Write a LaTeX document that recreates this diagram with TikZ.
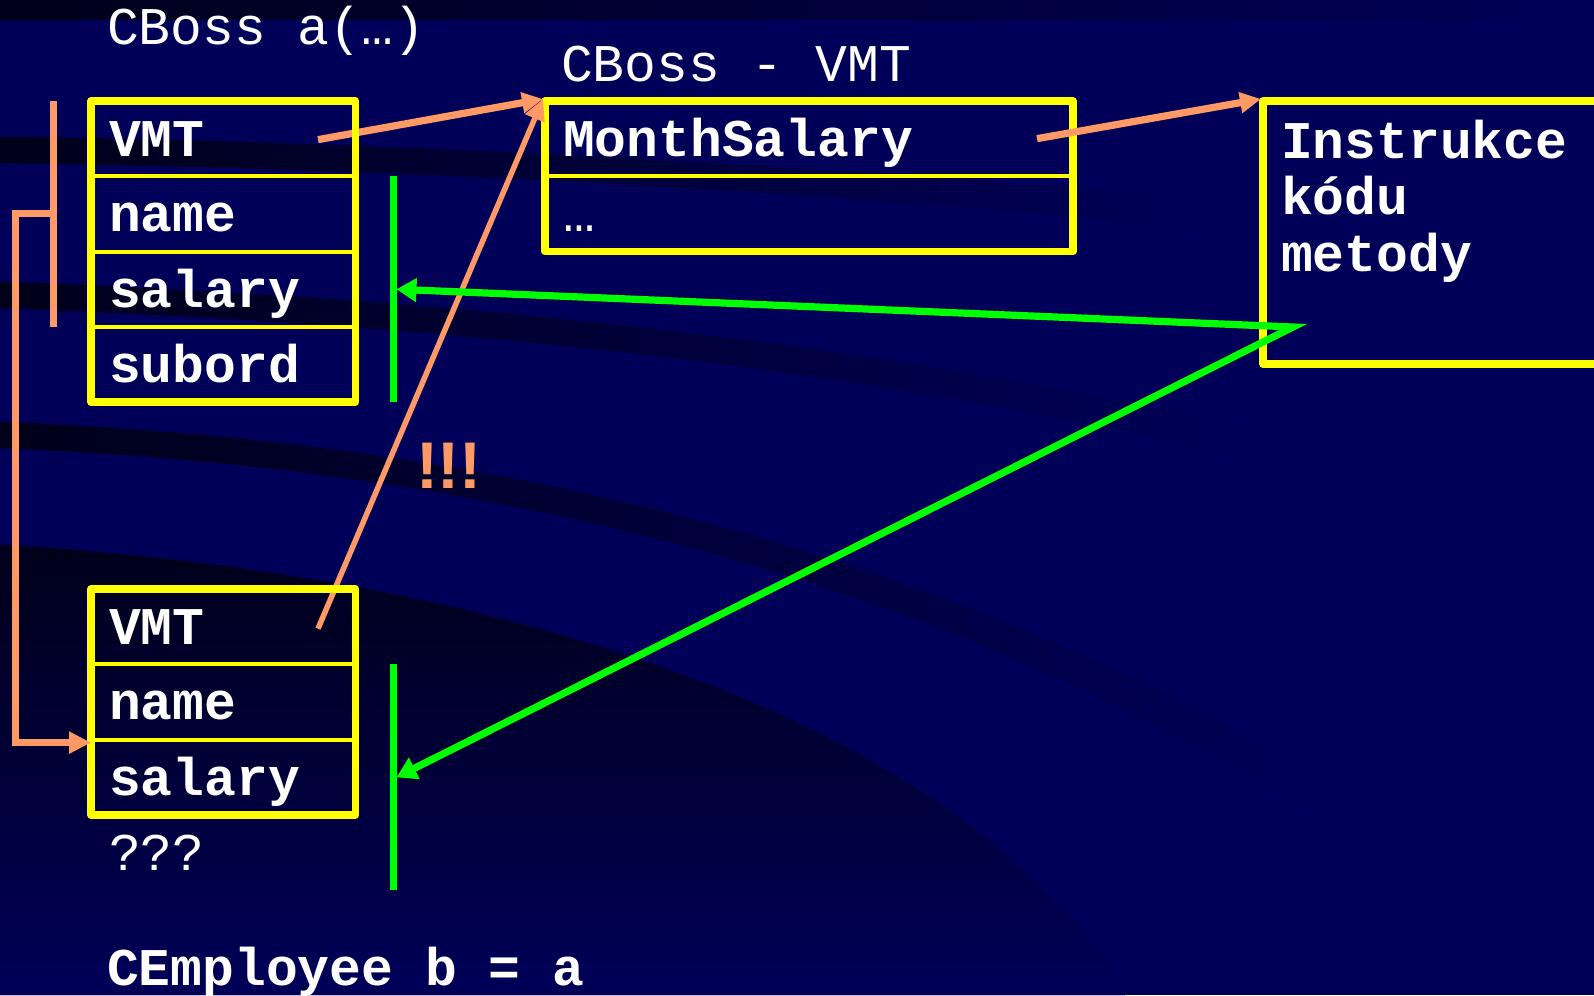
\documentclass[tikz,border=0pt]{standalone}
\usepackage{fontspec}
\setmonofont{Liberation Mono}
\newfontfamily\bangfont{Liberation Sans}
\usetikzlibrary{arrows.meta,calc}

\definecolor{navy}{RGB}{0,0,88}
\definecolor{banddark}{RGB}{0,0,26}
\definecolor{boxyellow}{RGB}{255,255,0}
\definecolor{ptrorange}{RGB}{255,153,102}
\definecolor{ptrgreen}{RGB}{0,255,0}

\newcommand\codesize{\fontsize{26.5}{28.25}\selectfont}

\begin{document}
\begin{tikzpicture}[x=0.5pt,y=-0.5pt,
  every node/.style={outer sep=0pt},
  code/.style={font=\ttfamily\codesize, text=white, inner sep=0pt},
  codebold/.style={font=\ttfamily\bfseries\codesize, text=white, inner sep=0pt},
  rowbox/.style={draw=boxyellow, line width=2pt, anchor=north west,
    minimum height=37.65pt, inner xsep=9pt, inner ysep=0pt, align=left,
    text height=22.26pt, text depth=4.24pt, text=white,
    font=\ttfamily\bfseries\codesize},
  rowA/.style={rowbox, text width=114.25pt},
  rowB/.style={rowbox, text width=246pt},
  frame/.style={draw=boxyellow, line width=3.75pt, line join=round},
  ptr/.style={draw=ptrorange, line width=3.6pt,
    -{Triangle[length=10.5pt,width=10pt]}},
  bracket/.style={draw=ptrorange, line width=3.5pt},
  span/.style={draw=ptrgreen, line width=3.5pt},
  gptr/.style={draw=ptrgreen, line width=3.6pt, line join=miter,
    {Triangle[length=10pt,width=11.5pt]}-{Triangle[length=10pt,width=11.5pt]}},
  swoosh/.style={left color=banddark, right color=navy}
]
\useasboundingbox (0,0) rectangle (1594,995);
\clip (0,0) rectangle (1594,995);

% backdrop with dark swooshes
\fill[navy] (0,0) rectangle (1594,995);
\fill[swoosh] (0,0) rectangle (1594,20);
\fill[swoosh]
  (0,137) .. controls (400,142) and (800,165) .. (1200,200)
  -- (1200,226) .. controls (800,190) and (400,168) .. (0,163) -- cycle;
\fill[swoosh]
  (0,282) .. controls (450,298) and (850,340) .. (1250,430)
  -- (1250,456) .. controls (850,366) and (450,324) .. (0,308) -- cycle;
\fill[swoosh]
  (0,422) .. controls (450,440) and (900,530) .. (1320,780)
  -- (1305,805) .. controls (890,558) and (450,466) .. (0,448) -- cycle;
\fill[top color=banddark, bottom color=navy]
  (0,545) .. controls (450,570) and (950,700) .. (1125,995)
  -- (0,995) -- cycle;

% VMT of CBoss
\node[rowB] (B1) at (545,101) {MonthSalary};
\node[rowB, font=\ttfamily\codesize] (B2) at (B1.south west) {…};
\draw[frame] (B1.north west) rectangle (B2.south east);

% code of the method
\node[frame, anchor=north west, minimum width=190pt, minimum height=131.5pt,
  inner sep=0pt] (D) at (1263,101) {};
\node[codebold, anchor=base west] (Dtext) at (1281,158)
  {\vtop{\hbox{Instrukce}\hbox{kódu}\hbox{metody}}};

% object a
\node[rowA] (A1) at (91,101) {VMT};
\node[rowA] (A2) at (A1.south west) {name};
\node[rowA] (A3) at (A2.south west) {salary};
\node[rowA] (A4) at (A3.south west) {subord};

% object b
\node[rowA] (C1) at (91,589) {VMT};
\node[rowA] (C2) at (C1.south west) {name};
\node[rowA] (C3) at (C2.south west) {salary};

% pointers to the VMT and to the code
\coordinate (vmtA) at ($(A1.east)+(-37.5,1)$);
\coordinate (vmtC) at ($(C1.east)+(-37.5,2)$);
\coordinate (vmtB) at ($(B1.north west)+(-2,-2)$);
\coordinate (slotB) at ($(B1.east)+(-36,0)$);
\coordinate (codeD) at ($(D.north west)+(-2,-2)$);
\draw[ptr] (vmtA) -- (vmtB);
\draw[ptr, line width=2.75pt] (vmtC) -- (vmtB);
\draw[ptr] (slotB) -- (codeD);

\draw[frame] (A1.north west) rectangle (A4.south east);
\draw[frame] (C1.north west) rectangle (C3.south east);

% the CEmployee part of a, copied into b
\draw[bracket] ($(A1.north west)+(-37.5,0)$) -- ($(A3.south west)+(-37.5,0)$);
\draw[bracket, -{Triangle[length=11pt,width=10.5pt]}]
  ($(A2.west)+(-37.5,0)$) -- ++(-38,0) |- ($(C3.north west)+(0,3)$);

% captions
\node[code, anchor=base west] (capA) at (107,44.5) {CBoss a(…)};
\node[code, anchor=base west] (capB) at (561,82) {CBoss - VMT};
\node[code, anchor=base west] (missing) at (109,870) {???};
\node[codebold, anchor=base west] (capC) at (107,985) {CEmployee b = a};
\node[font=\bangfont\bfseries\fontsize{33}{36}\selectfont, text=ptrorange,
  anchor=base west, inner sep=0pt] (bang) at (416,488) {!!!};

% fields the method works on
\coordinate (gAtop) at ($(A2.north east)+(37.5,0)$);
\coordinate (gAbot) at ($(A4.south east)+(37.5,0)$);
\coordinate (gCtop) at ($(C2.north east)+(37.5,0)$);
\coordinate (gCbot) at ($(gCtop)+(0,226)$);
\draw[span] (gAtop) -- (gAbot);
\draw[span] (gCtop) -- (gCbot);

\coordinate (codeP) at ($(D.north west)+(30,226)$);
\coordinate (hitA) at ($(gAtop)!0.5!(gAbot)+(3.5,0)$);
\coordinate (hitC) at ($(gCtop)!0.5!(gCbot)+(3.5,0)$);
\draw[gptr] (hitA) -- (codeP) -- (hitC);
\end{tikzpicture}
\end{document}
